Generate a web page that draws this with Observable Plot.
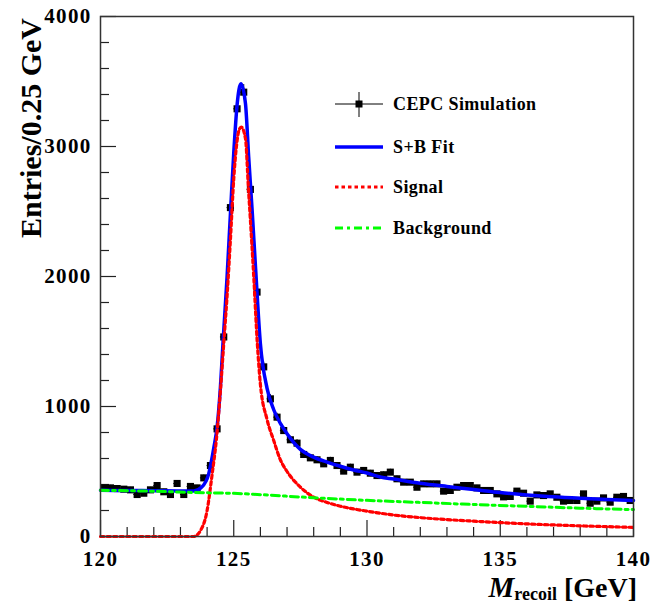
<!DOCTYPE html>
<html><head><meta charset="utf-8">
<script src="https://cdn.jsdelivr.net/npm/d3@7"></script>
<script src="https://cdn.jsdelivr.net/npm/@observablehq/plot@0.6"></script>
<style>
body{margin:0;background:#fff;}
svg text{font-family:"Liberation Serif",serif !important;font-weight:bold !important;fill:#000;}
svg g[aria-label$="tick label"] text{letter-spacing:1.3px;}
</style></head><body><div id="chart"></div>
<script>
// ---- data ----
const binCenters = [
 120.125,120.375,120.625,120.875,121.125,121.375,121.625,121.875,122.125,122.375,
 122.625,122.875,123.125,123.375,123.625,123.875,124.125,124.375,124.625,124.875,
 125.125,125.375,125.625,125.875,126.125,126.375,126.625,126.875,127.125,127.375,
 127.625,127.875,128.125,128.375,128.625,128.875,129.125,129.375,129.625,129.875,
 130.125,130.375,130.625,130.875,131.125,131.375,131.625,131.875,132.125,132.375,
 132.625,132.875,133.125,133.375,133.625,133.875,134.125,134.375,134.625,134.875,
 135.125,135.375,135.625,135.875,136.125,136.375,136.625,136.875,137.125,137.375,
 137.625,137.875,138.125,138.375,138.625,138.875,139.125,139.375,139.625,139.875];
const counts = [
 374,374,369,364,359,323,333,359,392,344,
 323,408,323,385,374,451,546,828,1535,2530,
 3290,3418,2670,1880,1305,1059,918,815,744,718,
 631,605,590,559,585,546,503,533,495,508,
 487,469,475,495,444,418,418,379,405,405,
 405,349,354,379,392,392,374,354,354,328,
 305,308,349,333,272,320,315,328,302,272,
 277,277,328,256,272,297,264,302,308,277];

const fitX = [120,121,122,123,123.5,123.8,124.06,124.25,124.38,124.5,124.6,124.75,124.88,125,125.13,125.27,125.44,125.56,125.69,125.82,126,126.25,126.5,126.75,127,127.5,128,128.5,129,129.5,130,130.5,131,132,133,134,135,136,137,138,139,140];
const fitY = [355,354,352,350,350,380,482,680,850,1150,1500,2000,2500,2950,3330,3482,3330,2920,2508,2060,1482,1140,975,870,790,670,610,572,540,512,488,458,442,410,385,362,338,320,305,294,285,277];

const sigX = [120,123.5,123.75,124,124.19,124.35,124.5,124.63,124.75,124.88,125,125.1,125.19,125.28,125.44,125.55,125.65,125.75,125.88,126,126.25,126.5,126.75,127,127.5,128,128.5,129,129.5,130,131,132,133,134,135,136,137,138,139,140];
const sigY = [0,0,45,200,480,750,1120,1500,1850,2300,2750,3000,3120,3150,3060,2680,2350,2000,1500,1170,900,738,590,500,380,302,262,233,212,195,165,145,130,118,107,97,89,82,76,70];

const bkgX = [120,122,124,125,126,128,130,132,134,136,138,140];
const bkgY = [355,348,336,332,322,298,278,262,246,232,218,207];

const xMajor = [120,125,130,135,140];
const xMinor = [121,122,123,124,126,127,128,129,131,132,133,134,136,137,138,139];
const yMajor = [0,1000,2000,3000,4000];
const yMinor = [200,400,600,800,1200,1400,1600,1800,2200,2400,2600,2800,3200,3400,3600,3800];

const legendLabels = ["CEPC Simulation","S+B Fit","Signal","Background"];
const yTitle = "Entries/0.25 GeV";

// ---- layout ----
const W = 652, H = 604, mL = 100, mR = 19, mT = 16, mB = 68;
const innerW = W - mL - mR, innerH = H - mT - mB;

const pts = binCenters.map((x, i) => ({x, y: counts[i]}));
const toRows = (xs, ys) => xs.map((x, i) => ({x, y: ys[i]}));
const fit = toRows(fitX, fitY), sig = toRows(sigX, sigY), bkg = toRows(bkgX, bkgY);

const BLUE = "#0000ff", RED = "#ff0000", GREEN = "#00ff00";
const RED_DASH = "3.5,3", GREEN_DASH = "8,4,3,4";

const svg = Plot.plot({
  width: W, height: H,
  marginLeft: mL, marginRight: mR, marginTop: mT, marginBottom: mB,
  x: {domain: [120, 140]},
  y: {domain: [0, 4000]},
  style: {fontFamily: "Liberation Serif", fontWeight: "bold", background: "white", color: "black", overflow: "visible"},
  marks: [
    Plot.ruleX(xMajor, {x: d => d, insetTop: innerH - 16, stroke: "#222", strokeWidth: 1.2}),
    Plot.ruleX(xMinor, {x: d => d, insetTop: innerH - 9, stroke: "#222", strokeWidth: 1.2}),
    Plot.ruleY(yMajor, {y: d => d, insetRight: innerW - 16, stroke: "#222", strokeWidth: 1.2}),
    Plot.ruleY(yMinor, {y: d => d, insetRight: innerW - 9, stroke: "#222", strokeWidth: 1.2}),
    Plot.axisX({ticks: xMajor, tickSize: 0, tickPadding: 15, fontSize: 21, label: null, tickFormat: d => String(d)}),
    Plot.axisY({ticks: yMajor, tickSize: 0, tickPadding: 9, fontSize: 21, label: null, tickFormat: d => String(d)}),
    Plot.ruleY(pts, {y: "y", x1: d => d.x - 0.125, x2: d => d.x + 0.125, stroke: "black", strokeWidth: 1}),
    Plot.ruleX(pts, {x: "x", y1: d => d.y - Math.sqrt(d.y), y2: d => d.y + Math.sqrt(d.y), stroke: "black", strokeWidth: 1}),
    Plot.dot(pts, {x: "x", y: "y", symbol: "square", r: 4, fill: "black", stroke: "none"}),
    Plot.line(fit, {x: "x", y: "y", stroke: BLUE, strokeWidth: 3.5, curve: "monotone-x"}),
    Plot.line(sig, {x: "x", y: "y", stroke: RED, strokeWidth: 3.2, strokeDasharray: RED_DASH, curve: "monotone-x"}),
    Plot.line(bkg, {x: "x", y: "y", stroke: GREEN, strokeWidth: 3, strokeDasharray: GREEN_DASH, curve: "monotone-x"}),
    Plot.frame({stroke: "#333", strokeWidth: 1.5})
  ]
});
document.getElementById("chart").appendChild(svg);

const s = d3.select(svg);
// y-axis title
s.append("text")
  .attr("transform", "translate(41,18) rotate(-90)")
  .attr("text-anchor", "end")
  .style("font-size", "30px")
  .text(yTitle);
// x-axis title
const xt = s.append("text").attr("x", 637).attr("y", 597).attr("text-anchor", "end").style("font-size", "28px");
xt.append("tspan").style("font-style", "italic").style("font-size", "29px").text("M");
xt.append("tspan").attr("dy", 3).style("font-size", "18px").text("recoil");
xt.append("tspan").attr("dy", -3).style("font-size", "28px").text(" [GeV]");

// legend
const lg = s.append("g");
const rowsY = [104, 147, 187, 228];
const lx0 = 335, lx1 = 383, tx = 393;
lg.append("line").attr("x1", lx0).attr("x2", lx1).attr("y1", rowsY[0]).attr("y2", rowsY[0]).attr("stroke", "black").attr("stroke-width", 1);
lg.append("line").attr("x1", 359).attr("x2", 359).attr("y1", rowsY[0] - 12).attr("y2", rowsY[0] + 13).attr("stroke", "black").attr("stroke-width", 1);
lg.append("rect").attr("x", 355.5).attr("y", rowsY[0] - 3.5).attr("width", 7).attr("height", 7).attr("fill", "black");
lg.append("line").attr("x1", lx0).attr("x2", lx1).attr("y1", rowsY[1]).attr("y2", rowsY[1]).attr("stroke", BLUE).attr("stroke-width", 3.5);
lg.append("line").attr("x1", lx0).attr("x2", lx1).attr("y1", rowsY[2]).attr("y2", rowsY[2]).attr("stroke", RED).attr("stroke-width", 3.2).attr("stroke-dasharray", RED_DASH);
lg.append("line").attr("x1", lx0).attr("x2", lx1).attr("y1", rowsY[3]).attr("y2", rowsY[3]).attr("stroke", GREEN).attr("stroke-width", 3).attr("stroke-dasharray", GREEN_DASH);
legendLabels.forEach((t, i) => {
  lg.append("text").attr("x", tx).attr("y", rowsY[i] + 6).attr("text-anchor", "start")
    .style("font-size", "18px").style("letter-spacing", "0.4px").text(t);
});
</script></body></html>
